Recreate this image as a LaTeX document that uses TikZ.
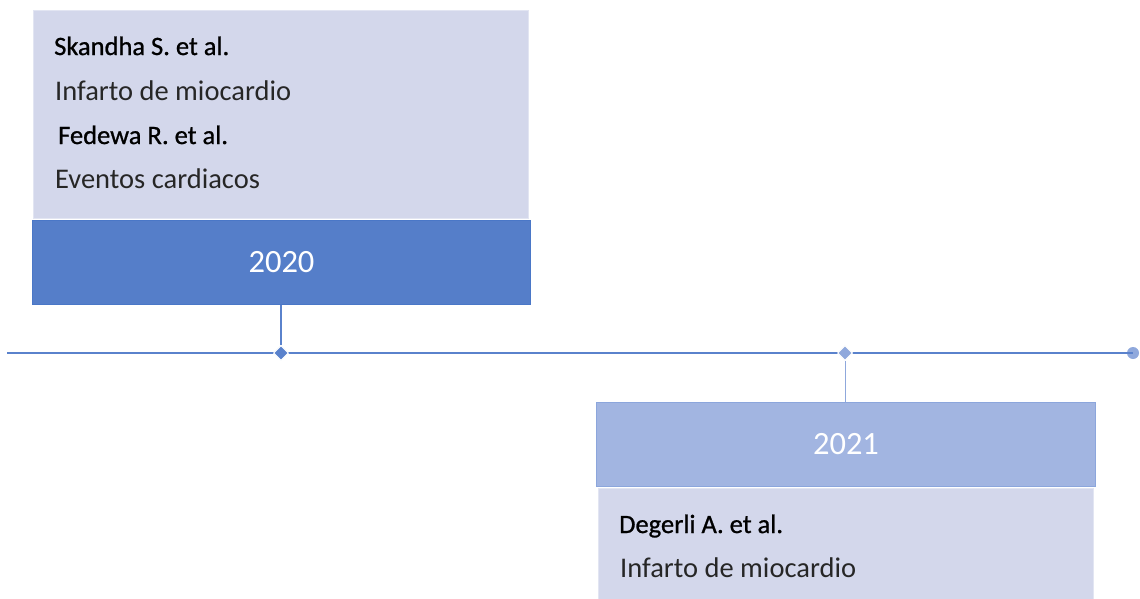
\documentclass[tikz,border=0pt]{standalone}
\usepackage{fontspec}
\setmainfont{Carlito}
\newfontfamily\semibfont[FakeBold=0.9]{Carlito}
\usetikzlibrary{shapes.geometric}
\definecolor{lav}{HTML}{D3D7EB}
\definecolor{lavedge}{HTML}{E2E5F2}
\definecolor{darkblue}{HTML}{557EC9}
\definecolor{darkedge}{HTML}{4A77C7}
\definecolor{lineblue}{HTML}{5A82CC}
\definecolor{lightblue}{HTML}{A2B5E1}
\definecolor{lightedge}{HTML}{8CA6DC}
\definecolor{markblue}{HTML}{8FA8DC}
\definecolor{desctext}{HTML}{262626}
\tikzset{
  textbox/.style={fill=lav,draw=lavedge,line width=1pt},
  yearbox/.style={fill=darkblue,draw=darkedge,line width=1pt},
  yearboxlight/.style={fill=lightblue,draw=lightedge,line width=1pt},
  yeartext/.style={text=white,font=\fontsize{32.5}{38}\selectfont,inner sep=0pt},
  authorlabel/.style={anchor=base west,inner sep=0pt,text=black,font=\semibfont\fontsize{26.5}{32}\selectfont},
  desclabel/.style={anchor=base west,inner sep=0pt,text=desctext,font=\fontsize{28.5}{34}\selectfont},
  axisline/.style={draw=lineblue,line width=2pt},
}
\begin{document}
\begin{tikzpicture}[x=1pt,y=-1pt]
\useasboundingbox (0,0) rectangle (1140,598);
% timeline
\coordinate (tl) at (7,353);
\node[circle,fill=markblue,inner sep=0pt,minimum size=12pt] (end) at (1133,353) {};
\draw[axisline] (tl) -- (end.center);
% 2020
\node[textbox,anchor=north west,minimum width=495pt,minimum height=208pt,inner sep=0pt] (b1) at (33,10) {};
\node[yearbox,anchor=north west,minimum width=498pt,minimum height=84pt,inner sep=0pt] (y1) at (32,220) {};
\node[yeartext] at (y1.center) {2020};
\node[diamond,fill=lineblue,draw=white,line width=1pt,inner sep=0pt,minimum size=15pt] (d1) at (281,353) {};
\draw[draw=lineblue,line width=1.3pt] (y1.south -| d1) -- (d1.north);
\node[authorlabel] (n1) at (54,55) {Skandha S. et al.};
\node[desclabel] (t1) at (55,100) {Infarto de miocardio};
\node[authorlabel] (n2) at (58,144) {Fedewa R. et al.};
\node[desclabel] (t2) at (55,188) {Eventos cardiacos};
% 2021
\node[diamond,fill=markblue,draw=white,line width=1pt,inner sep=0pt,minimum size=15pt] (d2) at (845,353) {};
\node[yearboxlight,anchor=north west,minimum width=499pt,minimum height=84pt,inner sep=0pt] (y2) at (596,402) {};
\node[yeartext] at (y2.center) {2021};
\draw[draw=markblue,line width=1pt] (d2.south) -- (y2.north -| d2);
\node[textbox,anchor=north west,minimum width=495pt,minimum height=112pt,inner sep=0pt] (b2) at (598,488) {};
\node[authorlabel] (n3) at (619,533) {Degerli A. et al.};
\node[desclabel] (t3) at (620,577) {Infarto de miocardio};
\end{tikzpicture}
\end{document}
